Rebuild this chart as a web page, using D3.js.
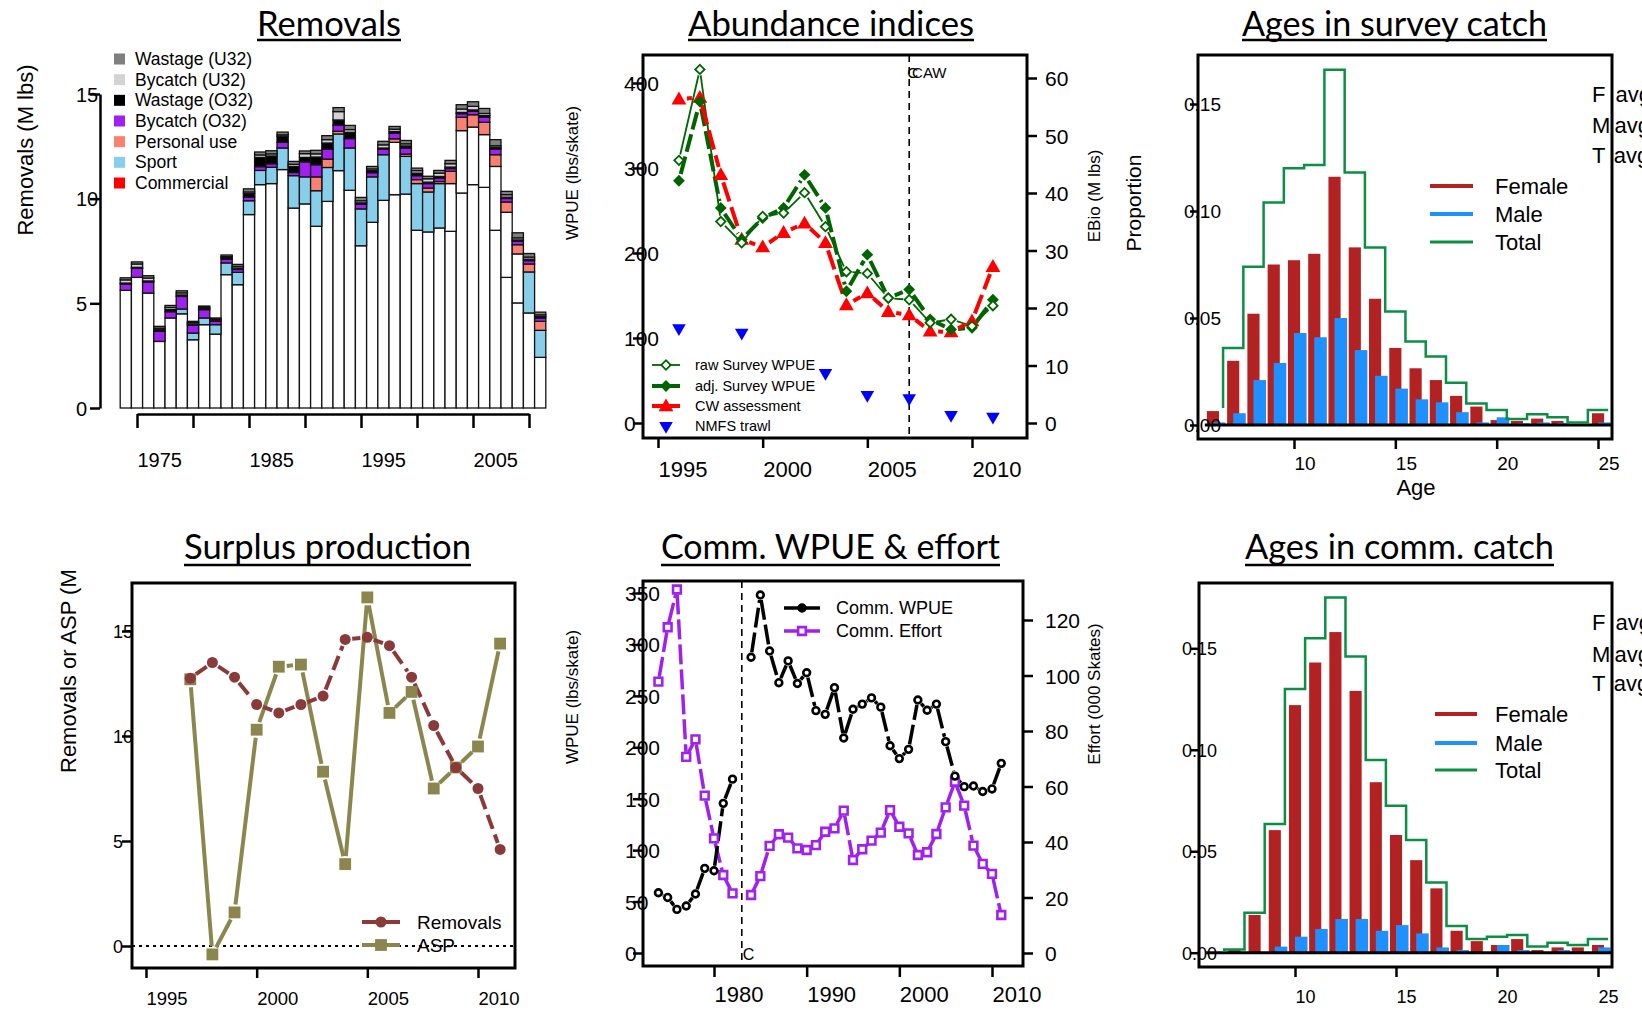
<!DOCTYPE html>
<html><head><meta charset="utf-8">
<script src="https://cdn.jsdelivr.net/npm/d3@7"></script>
<style>
html,body{margin:0;padding:0;background:#fff;}
svg{display:block;font-family:"Liberation Sans",Arial,sans-serif;}
</style></head><body>
<svg id="c" width="1642" height="1011"></svg>
<script>
// ================= DATA =================
// Panel 1: Removals (M lbs), stacked by source
const remYears = [1974,1975,1976,1977,1978,1979,1980,1981,1982,1983,1984,1985,1986,1987,1988,1989,1990,1991,1992,1993,1994,1995,1996,1997,1998,1999,2000,2001,2002,2003,2004,2005,2006,2007,2008,2009,2010,2011];
const commercial = [5.62,6.24,5.49,3.18,4.30,4.50,3.26,3.98,3.53,6.37,5.89,9.24,10.67,10.72,11.39,9.55,9.75,8.68,9.87,11.34,10.40,7.75,8.87,9.92,10.19,10.22,8.49,8.41,8.60,8.44,10.27,10.67,10.54,8.49,6.24,5.02,4.54,2.42];
const commercialB = [0,0,0,0,0,0,0,0,0,0,0,0,0,0,0,0,0,0,0,0,0,0,0,0,2.50,0,0,0,0,2.28,2.98,2.75,2.52,3.05,3.11,2.34,0,0];
const sport = [0,0,0,0,0,0.23,0.32,0.32,0.45,0.56,0.59,0.66,0.68,0.78,1.03,1.55,1.29,1.70,1.62,1.75,2.02,1.76,2.17,2.18,0,1.80,2.23,1.91,2.12,0,0,0,0,0,0,0,1.96,1.29];
const personalUse = [0,0,0,0,0,0,0,0,0,0,0,0,0,0,0,0,0,0.66,0.40,0.13,0,0,0,0,0.17,0.11,0.19,0.19,0.10,0.59,0.64,0.59,0.59,0.56,0.49,0.44,0.38,0.43];
const bycatchO32 = [0.30,0.43,0.53,0.48,0.30,0.60,0.38,0.40,0.17,0.18,0.14,0.18,0.18,0.17,0.27,0.15,0.72,0.58,0.48,0.30,0.45,0.22,0.20,0.27,0.27,0.29,0.19,0.21,0.16,0.13,0.17,0.17,0.24,0.27,0.17,0.17,0.16,0.16];
const wastageO32 = [0.05,0.05,0.05,0.08,0.10,0.07,0.05,0.06,0.05,0.08,0.06,0.16,0.44,0.37,0.29,0.29,0.21,0.37,0.29,0.24,0.30,0.07,0.10,0.05,0.08,0.10,0.12,0.07,0.08,0.07,0.06,0.06,0.08,0.08,0.06,0.06,0.07,0.07];
const bycatchU32 = [0.15,0.16,0.14,0.07,0.10,0.10,0.07,0.05,0.05,0.04,0.08,0.08,0.12,0.10,0.07,0.10,0.18,0.15,0.16,0.40,0.13,0.10,0.08,0.15,0.11,0.10,0.12,0.16,0.16,0.16,0.16,0.17,0.10,0.08,0.12,0.10,0.10,0.08];
const wastageU32 = [0.10,0.10,0.11,0.09,0.10,0.10,0.06,0.06,0.05,0.08,0.10,0.15,0.14,0.15,0.13,0.14,0.13,0.17,0.19,0.19,0.20,0.16,0.12,0.17,0.13,0.16,0.12,0.12,0.13,0.16,0.21,0.22,0.24,0.29,0.16,0.24,0.17,0.13];
const remLegend = ["Wastage (U32)","Bycatch (U32)","Wastage (O32)","Bycatch (O32)","Personal use","Sport","Commercial"];
const remTickYears = [1975,1980,1985,1990,1995,2000,2005,2010];
const remLabelYears = [1975,1985,1995,2005];
const remYTicks = [0,5,10,15];

// Panel 2: Abundance indices
const surveyYears = [1996,1997,1998,1999,2000,2001,2002,2003,2004,2005,2006,2007,2008,2009,2010,2011];
const rawWPUE = [309,416,237,212,243,247,271,231,178,176,147,145,118,122,114,138];
const adjWPUE = [285,378,253,216,241,253,292,253,155,198,147,157,122,110,112,145];
const cwAssess = [381,383,292,216,207,224,235,212,139,153,131,127,108,107,120,184];
const nmfsYears = [1996,1999,2003,2005,2007,2009,2011];
const nmfsTrawl = [16.5,15.7,8.7,4.9,4.3,1.4,1.1];
const abLegend = ["raw Survey WPUE","adj. Survey WPUE","CW assessment","NMFS trawl"];
const abXTicks = [1995,2000,2005,2010];
const abYTicks = [0,100,200,300,400];
const abY2Ticks = [0,10,20,30,40,50,60];
const abMarkYear = 2007;

// Panel 3 / 6: ages
const ages = [6,7,8,9,10,11,12,13,14,15,16,17,18,19,20,21,22,23,24,25];
const surveyFemale = [0.0065,0.030,0.052,0.075,0.077,0.080,0.116,0.083,0.059,0.036,0.0265,0.021,0.0136,0.0086,0.0023,0.0019,0.003,0.0019,0.0005,0.0055];
const surveyMale = [0.0012,0.0055,0.021,0.029,0.043,0.041,0.050,0.035,0.023,0.017,0.012,0.0106,0.006,0.0012,0.0036,0.0008,0.0012,0.001,0.0005,0.0012];
const surveyTotal = [0.008,0.036,0.074,0.104,0.120,0.1215,0.166,0.118,0.083,0.053,0.039,0.032,0.0198,0.010,0.007,0.0028,0.005,0.0036,0.0012,0.007];
const commFemale = [0,0.0013,0.0186,0.0604,0.122,0.143,0.158,0.129,0.084,0.058,0.0456,0.0317,0.0108,0.0057,0.0038,0.0067,0.0013,0.0026,0.0026,0.0038];
const commMale = [0,0,0,0.003,0.0079,0.0117,0.0166,0.0166,0.0108,0.0136,0.0095,0.0026,0.0013,0,0.0038,0.0013,0,0.0013,0,0.0026];
const commTotal = [0.0005,0.0016,0.0197,0.0634,0.130,0.155,0.175,0.146,0.095,0.0724,0.0555,0.0346,0.0131,0.0067,0.0079,0.0087,0.003,0.0049,0.0038,0.0067];
const ageXTicks = [10,15,20,25];
const ageYTicks = [0,0.05,0.10,0.15];
const sexLegend = ["Female","Male","Total"];
const avgLabels = ["F","M","T"];

// Panel 4: Surplus production
const spYears = [1997,1998,1999,2000,2001,2002,2003,2004,2005,2006,2007,2008,2009,2010,2011];
const spRemovals = [12.75,13.5,12.8,11.5,11.1,11.5,11.9,14.6,14.7,14.3,12.8,10.5,8.5,7.5,4.6];
const spASP = [12.7,-0.4,1.6,10.3,13.3,13.4,8.3,3.9,16.6,11.1,12.1,7.5,8.5,9.5,14.4];
const spXTicks = [1995,2000,2005,2010];
const spYTicks = [0,5,10,15];
const spLegend = ["Removals","ASP"];

// Panel 5: Comm. WPUE & effort
const cYears = [1974,1975,1976,1977,1978,1979,1980,1981,1982,1983,1984,1985,1986,1987,1988,1989,1990,1991,1992,1993,1994,1995,1996,1997,1998,1999,2000,2001,2002,2003,2004,2005,2006,2007,2008,2009,2010,2011];
const commWPUE = [58.6,54,42.4,45.7,57.4,82.3,80,145.5,169,null,287.5,348,293.6,262.8,284,262,272.5,235.6,232,258,209,237,242,248,239,201.5,189,198,246,236,242,205.5,172,161.7,162.4,157,159.5,184.4];
const commEffort = [97.8,117.4,131,70.7,77,56.7,41.3,28.1,21.5,null,20.9,27.7,38.6,42.8,41.6,37.7,37.1,38.9,43.7,44.9,51.3,33.5,37.4,40.5,43.4,51.5,45.5,43.1,35.3,36.3,42.9,52.5,61.7,53.1,38.7,32.1,28.5,13.7];
const cXTicks = [1980,1990,2000,2010];
const cYTicks = [0,50,100,150,200,250,300,350];
const cY2Ticks = [0,20,40,60,80,100,120];
const cLegend = ["Comm. WPUE","Comm. Effort"];
const cMarkYear = 1983;

// ================= DRAWING =================
const svg = d3.select("#c");
const FONT = "Liberation Sans, Arial, sans-serif";
const yearFmt = d3.format("d");

function fmtAxis(g, fs, tw){
  g.attr("font-family", FONT).attr("font-size", fs);
  g.selectAll("line").attr("stroke","#000").attr("stroke-width", tw||2.5);
  g.selectAll(".domain").attr("stroke","#000").attr("stroke-width", tw||2.5);
  g.selectAll("text").attr("fill","#000");
}
function leftAxis(scale, ticks, axisX, labelX, fs, size, fmt, keepDomain){
  const ax = d3.axisLeft(scale).tickValues(ticks).tickSize(size).tickSizeOuter(0);
  if (fmt) ax.tickFormat(fmt);
  const g = svg.append("g").attr("transform",`translate(${axisX},0)`).call(ax);
  if (!keepDomain) g.select(".domain").remove();
  fmtAxis(g, fs);
  g.selectAll("text").attr("x", labelX-axisX).attr("text-anchor","start").attr("dy","0.36em");
  return g;
}
function rightAxis(scale, ticks, axisX, labelX, fs, size){
  const ax = d3.axisRight(scale).tickValues(ticks).tickSize(size).tickSizeOuter(0);
  const g = svg.append("g").attr("transform",`translate(${axisX},0)`).call(ax);
  g.select(".domain").remove();
  fmtAxis(g, fs);
  g.selectAll("text").attr("x", labelX-axisX).attr("text-anchor","start").attr("dy","0.36em");
  return g;
}
function bottomAxis(scale, ticks, axisY, labelDy, fs, size, fmt, keepDomain){
  const ax = d3.axisBottom(scale).tickValues(ticks).tickSize(size).tickSizeOuter(0);
  ax.tickFormat(fmt || yearFmt);
  const g = svg.append("g").attr("transform",`translate(0,${axisY})`).call(ax);
  if (!keepDomain) g.select(".domain").remove();
  fmtAxis(g, fs);
  g.selectAll("text").attr("x",0).attr("text-anchor","start").attr("y", labelDy).attr("dy", null);
  return g;
}
function box(x1,y1,x2,y2){
  svg.append("rect").attr("x",x1).attr("y",y1).attr("width",x2-x1).attr("height",y2-y1)
    .attr("fill","none").attr("stroke","#000").attr("stroke-width",3);
}
function title(txt, x1, x2, baseY, ulY){
  svg.append("text").attr("x",(x1+x2)/2).attr("y",baseY).attr("text-anchor","middle")
    .attr("font-family","Lato, 'Open Sans', sans-serif").attr("font-size",34)
    .attr("textLength", x2-x1).attr("lengthAdjust","spacingAndGlyphs").attr("fill","#000").text(txt);
  svg.append("line").attr("x1",x1).attr("x2",x2).attr("y1",ulY).attr("y2",ulY)
    .attr("stroke","#000").attr("stroke-width",2.5);
}
function vtitle(txt, x, y, fs, anchor){
  svg.append("text").attr("transform",`translate(${x},${y}) rotate(-90)`)
    .attr("text-anchor", anchor||"middle").attr("font-family",FONT).attr("font-size",fs)
    .attr("fill","#000").text(txt);
}
function txt(t, x, y, fs, anchor, extra){
  const e = svg.append("text").attr("x",x).attr("y",y).attr("font-family",FONT).attr("font-size",fs)
    .attr("text-anchor",anchor||"start").attr("fill","#000").text(t);
  if (extra) extra(e);
  return e;
}
// "type b" line: segments with gaps around points
function gapLines(g, pts, gap, color, width, dash){
  for (let i=0;i<pts.length-1;i++){
    const a=pts[i], b=pts[i+1];
    if (!a || !b) continue;
    const dx=b[0]-a[0], dy=b[1]-a[1], L=Math.hypot(dx,dy);
    if (L <= 2*gap) continue;
    const ux=dx/L, uy=dy/L;
    g.append("line").attr("x1",a[0]+ux*gap).attr("y1",a[1]+uy*gap)
      .attr("x2",b[0]-ux*gap).attr("y2",b[1]-uy*gap)
      .attr("stroke",color).attr("stroke-width",width)
      .attr("stroke-dasharray",dash||null).attr("stroke-linecap","butt");
  }
}
const sym = (type,size)=>d3.symbol().type(type).size(size)();

// ---------- Titles ----------
title("Removals", 257, 401, 36, 40);
title("Abundance indices", 688, 974, 36, 40);
title("Ages in survey catch", 1242, 1547, 36, 40);
title("Surplus production", 184, 471, 559, 565);
title("Comm. WPUE & effort", 661, 1000, 559, 565);
title("Ages in comm. catch", 1245, 1554, 559, 565);

// ================= Panel 1: Removals =================
(function(){
  const x = d3.scaleLinear().domain([1975,2010]).range([137,529]);
  const y = d3.scaleLinear().domain([0,15]).range([408,94]);
  const keys = ["commercial","commercialB","sport","personalUse","bycatchO32","wastageO32","bycatchU32","wastageU32"];
  const colors = {commercial:"#ffffff",commercialB:"#ffffff",sport:"#87CEEB",personalUse:"#FA8072",
    bycatchO32:"#A020F0",wastageO32:"#000000",bycatchU32:"#D3D3D3",wastageU32:"#7F7F7F"};
  const rows = remYears.map((yr,i)=>({year:yr, commercial:commercial[i], commercialB:commercialB[i], sport:sport[i],
    personalUse:personalUse[i], bycatchO32:bycatchO32[i], wastageO32:wastageO32[i], bycatchU32:bycatchU32[i], wastageU32:wastageU32[i]}));
  const stacked = d3.stack().keys(keys)(rows);
  const g = svg.append("g");
  stacked.forEach(layer=>{
    g.selectAll(null).data(layer.filter(d=>d[1]-d[0]>0)).enter().append("rect")
      .attr("x", d=>x(d.data.year-0.5)).attr("width", d=>x(d.data.year+0.5)-x(d.data.year-0.5))
      .attr("y", d=>y(d[1])).attr("height", d=>y(d[0])-y(d[1]))
      .attr("fill", colors[layer.key]).attr("stroke","#111").attr("stroke-width",1.3);
  });
  leftAxis(y, remYTicks, 100, 76, 20, 10, null, true);
  bottomAxis(x, remTickYears, 414, 53, 20, 14, d=>remLabelYears.includes(d)?yearFmt(d):"", true);
  vtitle("Removals (M lbs)", 33, 150, 22);
  const legCols = ["#7F7F7F","#D3D3D3","#000000","#A020F0","#FA8072","#87CEEB","#FF0000"];
  const ly = d3.scaleLinear().domain([0,6]).range([59,183]);
  remLegend.forEach((t,i)=>{
    svg.append("rect").attr("x",114).attr("y",ly(i)-5.5).attr("width",11).attr("height",11).attr("fill",legCols[i]);
    txt(t, 135, ly(i), 17.5, "start", e=>e.attr("dominant-baseline","central"));
  });
})();

// ================= Panel 2: Abundance indices =================
(function(){
  const x = d3.scaleLinear().domain([1995,2010]).range([658,972]);
  const y = d3.scaleLinear().domain([0,400]).range([423,83]);
  const y2 = d3.scaleLinear().domain([0,60]).range([423,78]);
  const g = svg.append("g");
  // vertical dashed marker
  g.append("line").attr("x1",x(abMarkYear)).attr("x2",x(abMarkYear)).attr("y1",55).attr("y2",438)
    .attr("stroke","#000").attr("stroke-width",1.6).attr("stroke-dasharray","7,5");
  txt("CCAW", x(abMarkYear)-2, 78, 15, "start", e=>e.attr("dx","0 -6 0 0"));
  const rawPts = surveyYears.map((yr,i)=>[x(yr), y(rawWPUE[i])]);
  const adjPts = surveyYears.map((yr,i)=>[x(yr), y(adjWPUE[i])]);
  const cwPts = surveyYears.map((yr,i)=>[x(yr), y(cwAssess[i])]);
  gapLines(g, rawPts, 6, "#006400", 1.8);
  gapLines(g, adjPts, 7, "#006400", 4, "18,5");
  gapLines(g, cwPts, 8, "#FF0000", 4, "20,6");
  const diamond = sym(d3.symbolSquare, 70), diamondS = sym(d3.symbolSquare, 44);
  const tri = sym(d3.symbolTriangle, 95);
  g.selectAll(null).data(cwPts).enter().append("path").attr("d",tri)
    .attr("transform",d=>`translate(${d[0]},${d[1]+1})`).attr("fill","#FF0000");
  g.selectAll(null).data(adjPts).enter().append("path").attr("d",diamond)
    .attr("transform",d=>`translate(${d[0]},${d[1]}) rotate(45)`).attr("fill","#006400");
  g.selectAll(null).data(rawPts).enter().append("path").attr("d",diamondS)
    .attr("transform",d=>`translate(${d[0]},${d[1]}) rotate(45)`).attr("fill","#fff").attr("stroke","#006400").attr("stroke-width",1.8);
  g.selectAll(null).data(nmfsYears.map((yr,i)=>[x(yr), y2(nmfsTrawl[i])])).enter().append("path")
    .attr("d", sym(d3.symbolTriangle, 80)).attr("transform",d=>`translate(${d[0]},${d[1]}) rotate(180)`).attr("fill","#0000FF");
  box(643,55,1027,438);
  leftAxis(y, abYTicks, 643, 624, 21, 10);
  rightAxis(y2, abY2Ticks, 1027, 1045, 21, 10);
  bottomAxis(x, abXTicks, 438, 39, 22, 10);
  vtitle("WPUE (lbs/skate)", 578, 173, 17);
  vtitle("EBio (M lbs)", 1100, 196, 17);
  // legend
  const rows = [365,386,406,426];
  const lg = svg.append("g");
  lg.append("line").attr("x1",652).attr("x2",680).attr("y1",rows[0]).attr("y2",rows[0]).attr("stroke","#006400").attr("stroke-width",1.8);
  lg.append("path").attr("d",diamondS).attr("transform",`translate(666,${rows[0]}) rotate(45)`).attr("fill","#fff").attr("stroke","#006400").attr("stroke-width",1.8);
  lg.append("line").attr("x1",652).attr("x2",680).attr("y1",rows[1]).attr("y2",rows[1]).attr("stroke","#006400").attr("stroke-width",4);
  lg.append("path").attr("d",diamond).attr("transform",`translate(666,${rows[1]}) rotate(45)`).attr("fill","#006400");
  lg.append("line").attr("x1",652).attr("x2",680).attr("y1",rows[2]).attr("y2",rows[2]).attr("stroke","#FF0000").attr("stroke-width",4);
  lg.append("path").attr("d",tri).attr("transform",`translate(666,${rows[2]+1})`).attr("fill","#FF0000");
  lg.append("path").attr("d",sym(d3.symbolTriangle,80)).attr("transform",`translate(666,${rows[3]}) rotate(180)`).attr("fill","#0000FF");
  abLegend.forEach((t,i)=> txt(t, 695, rows[i], 14.5, "start", e=>e.attr("dominant-baseline","central")));
})();

// ================= Panels 3 & 6: Ages =================
function agePanel(female, male, total, L){
  const x = d3.scaleLinear().domain([10,25]).range([L.x10, L.x25]);
  const y = d3.scaleLinear().domain([0,0.15]).range([L.y0, L.y15]);
  const g = svg.append("g");
  g.selectAll(null).data(ages.map((a,i)=>({a, v:female[i]})).filter(d=>d.v>0)).enter().append("rect")
    .attr("x",d=>x(d.a-0.3)).attr("width",d=>x(d.a+0.3)-x(d.a-0.3))
    .attr("y",d=>y(d.v)).attr("height",d=>y(0)-y(d.v)).attr("fill","#B22222");
  g.selectAll(null).data(ages.map((a,i)=>({a, v:male[i]})).filter(d=>d.v>0)).enter().append("rect")
    .attr("x",d=>x(d.a)).attr("width",d=>x(d.a+0.62)-x(d.a))
    .attr("y",d=>y(d.v)).attr("height",d=>y(0)-y(d.v)).attr("fill","#1E90FF");
  g.append("line").attr("x1",x(5.6)).attr("x2",x(25.65)).attr("y1",y(0)).attr("y2",y(0)).attr("stroke","#000").attr("stroke-width",3);
  const line = d3.line().x(d=>x(d.a+0.5)).y(d=>y(d.v)).curve(d3.curveStepBefore);
  g.append("path").attr("d", line(ages.map((a,i)=>({a, v:total[i]})))).attr("fill","none")
    .attr("stroke","#0B8F45").attr("stroke-width",2.5);
  box(L.bx1, L.by1, L.bx2, L.by2);
  leftAxis(y, ageYTicks, L.bx1, L.labX, L.fs, 8, d3.format(".2f"));
  bottomAxis(x, ageXTicks, L.by2, L.xDy, L.fs, 10, d3.format("d"));
  const cols = ["#B22222","#1E90FF","#0B8F45"];
  sexLegend.forEach((t,i)=>{
    svg.append("line").attr("x1",L.lx1).attr("x2",L.lx2).attr("y1",L.lrows[i]).attr("y2",L.lrows[i])
      .attr("stroke",cols[i]).attr("stroke-width",i==2?3:4);
    txt(t, 1495, L.lrows[i], 22, "start", e=>e.attr("dominant-baseline","central"));
  });
  const gapDx = {F:"0 4", M:"0 -2", T:"0 2.5"};
  avgLabels.forEach((t,i)=>{
    txt(t + " avg", 1592, L.arows[i], 22, "start", e=>e.attr("dx", gapDx[t]));
  });
}
agePanel(surveyFemale, surveyMale, surveyTotal, {x10:1294, x25:1598, y0:425, y15:104, bx1:1198, by1:55, bx2:1612, by2:439,
  labX:1184, fs:19, xDy:31, lx1:1430, lx2:1473, lrows:[186,214,242], arows:[102,133,163]});
vtitle("Proportion", 1141, 203, 21);
txt("Age", 1416, 495, 22, "middle");
agePanel(commFemale, commMale, commTotal, {x10:1295, x25:1598, y0:952.7, y15:648.3, bx1:1199, by1:583, bx2:1612, by2:967,
  labX:1182, fs:18, xDy:36, lx1:1435, lx2:1477, lrows:[714,743,770], arows:[630,662,691]});

// ================= Panel 4: Surplus production =================
(function(){
  const x = d3.scaleLinear().domain([1995,2010]).range([146,478]);
  const y = d3.scaleLinear().domain([0,15]).range([946,631]);
  const g = svg.append("g");
  g.append("line").attr("x1",132).attr("x2",515).attr("y1",y(0)).attr("y2",y(0))
    .attr("stroke","#000").attr("stroke-width",1.8).attr("stroke-dasharray","3,4");
  const rPts = spYears.map((yr,i)=>[x(yr), y(spRemovals[i])]);
  const aPts = spYears.map((yr,i)=>[x(yr), y(spASP[i])]);
  gapLines(g, aPts, 8, "#8B864E", 4);
  gapLines(g, rPts, 7, "#8B3A3A", 4, "15,6");
  g.selectAll(null).data(aPts).enter().append("path").attr("d",sym(d3.symbolSquare,140))
    .attr("transform",d=>`translate(${d[0]},${d[1]})`).attr("fill","#8B864E");
  g.selectAll(null).data(rPts).enter().append("path").attr("d",sym(d3.symbolCircle,95))
    .attr("transform",d=>`translate(${d[0]},${d[1]})`).attr("fill","#8B3A3A");
  box(132,583,515,968);
  leftAxis(y, spYTicks, 132, 113, 18, 10);
  bottomAxis(x, spXTicks, 968, 37, 18.5, 10);
  vtitle("Removals or ASP (M", 76, 773, 22, "start");
  const rows=[922,945];
  svg.append("line").attr("x1",362).attr("x2",400).attr("y1",rows[0]).attr("y2",rows[0]).attr("stroke","#8B3A3A").attr("stroke-width",4);
  svg.append("path").attr("d",sym(d3.symbolCircle,95)).attr("transform",`translate(381,${rows[0]})`).attr("fill","#8B3A3A");
  svg.append("line").attr("x1",362).attr("x2",400).attr("y1",rows[1]).attr("y2",rows[1]).attr("stroke","#8B864E").attr("stroke-width",4);
  svg.append("path").attr("d",sym(d3.symbolSquare,140)).attr("transform",`translate(381,${rows[1]})`).attr("fill","#8B864E");
  spLegend.forEach((t,i)=> txt(t, 417, rows[i], 19, "start", e=>e.attr("dominant-baseline","central")));
})();

// ================= Panel 5: Comm. WPUE & effort =================
(function(){
  const x = d3.scaleLinear().domain([1980,2010]).range([714,992]);
  const y = d3.scaleLinear().domain([0,350]).range([953,593]);
  const y2 = d3.scaleLinear().domain([0,120]).range([953,620]);
  const g = svg.append("g");
  g.append("line").attr("x1",x(cMarkYear)).attr("x2",x(cMarkYear)).attr("y1",581).attr("y2",966)
    .attr("stroke","#000").attr("stroke-width",1.6).attr("stroke-dasharray","7,5");
  txt("C", x(cMarkYear)+1, 960, 16);
  const wPts = cYears.map((yr,i)=> commWPUE[i]==null ? null : [x(yr), y(commWPUE[i])]);
  const ePts = cYears.map((yr,i)=> commEffort[i]==null ? null : [x(yr), y2(commEffort[i])]);
  gapLines(g, ePts, 5, "#A020F0", 3.5, "20,5");
  gapLines(g, wPts, 5, "#000", 3.5, "20,5");
  const sq = sym(d3.symbolSquare, 60), ci = sym(d3.symbolCircle, 36);
  g.selectAll(null).data(ePts.filter(d=>d)).enter().append("path").attr("d",sq)
    .attr("transform",d=>`translate(${d[0]},${d[1]})`).attr("fill","#fff").attr("stroke","#A020F0").attr("stroke-width",2.6);
  g.selectAll(null).data(wPts.filter(d=>d)).enter().append("path").attr("d",ci)
    .attr("transform",d=>`translate(${d[0]},${d[1]})`).attr("fill","#fff").attr("stroke","#000").attr("stroke-width",2.6);
  box(643,581,1023,966);
  leftAxis(y, cYTicks, 643, 625, 21, 10);
  rightAxis(y2, cY2Ticks, 1023, 1045, 21, 10);
  bottomAxis(x, cXTicks, 966, 36, 22, 11);
  vtitle("WPUE (lbs/skate)", 578, 697, 17);
  vtitle("Effort (000 Skates)", 1100, 694, 17);
  const rows=[608,631];
  svg.append("line").attr("x1",784).attr("x2",820).attr("y1",rows[0]).attr("y2",rows[0]).attr("stroke","#000").attr("stroke-width",3.5);
  svg.append("path").attr("d",ci).attr("transform",`translate(802,${rows[0]})`).attr("fill","#000").attr("stroke","#000").attr("stroke-width",2.6);
  svg.append("line").attr("x1",784).attr("x2",820).attr("y1",rows[1]).attr("y2",rows[1]).attr("stroke","#A020F0").attr("stroke-width",3.5);
  svg.append("path").attr("d",sq).attr("transform",`translate(802,${rows[1]})`).attr("fill","#fff").attr("stroke","#A020F0").attr("stroke-width",2.6);
  cLegend.forEach((t,i)=> txt(t, 836, rows[i], 18, "start", e=>e.attr("dominant-baseline","central")));
})();
</script>
</body></html>
